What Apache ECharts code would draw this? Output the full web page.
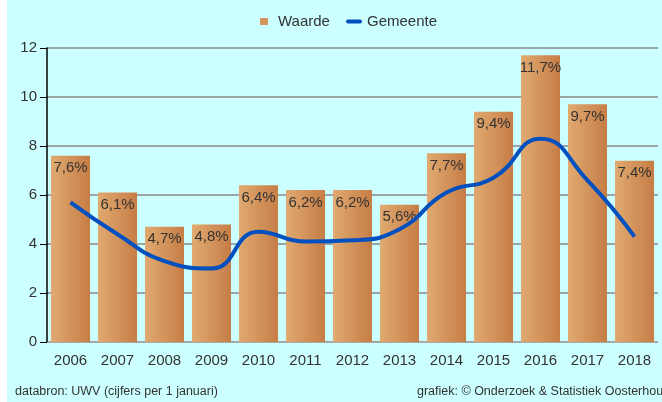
<!DOCTYPE html>
<html>
<head>
<meta charset="utf-8">
<script src="https://cdn.jsdelivr.net/npm/echarts@6/dist/echarts.min.js"></script>
<style>
  html, body { margin: 0; padding: 0; background: #fff; }
  #main { width: 662px; height: 402px; }
</style>
</head>
<body>
<div id="main"></div>
<script>
// jaren en waarden
var jaren = ["2006", "2007", "2008", "2009", "2010", "2011", "2012", "2013", "2014", "2015", "2016", "2017", "2018"];
var waarde = [7.6, 6.1, 4.7, 4.8, 6.4, 6.2, 6.2, 5.6, 7.7, 9.4, 11.7, 9.7, 7.4];
var gemeente = [5.7, 4.4, 3.3, 3.0, 4.5, 4.1, 4.15, 4.6, 6.1, 6.7, 8.3, 6.6, 4.3];
var yTicks = [0, 2, 4, 6, 8, 10, 12];

var myChart = echarts.init(document.getElementById("main"));

var barKleur = new echarts.graphic.LinearGradient(0, 0, 1, 0, [
  { offset: 0, color: "#e0aa70" },
  { offset: 1, color: "#c67d46" }
]);

myChart.setOption({
  backgroundColor: "#ccffff",
  textStyle: { fontFamily: "Liberation Sans, Arial, sans-serif" },
  graphic: [
    { type: "rect", left: 0, top: 0, shape: { width: 7, height: 402 }, style: { fill: "#fff" }, z: -1 },
    { type: "text", left: 15, top: 385, style: { text: "databron: UWV (cijfers per 1 januari)", fill: "#333", font: "12.5px Liberation Sans, Arial, sans-serif" } },
    { type: "text", left: 417, top: 385, style: { text: "grafiek: © Onderzoek & Statistiek Oosterhout", fill: "#333", font: "12.5px Liberation Sans, Arial, sans-serif" } }
  ],
  legend: [
    {
      top: 9,
      left: 255,
      itemGap: 10,
      textStyle: { fontSize: 15, color: "#333", padding: [0, 0, 0, 5] },
      data: [{ name: "Waarde", icon: "rect", itemStyle: { color: "#d69558" } }],
      itemWidth: 8,
      itemHeight: 7
    },
    {
      top: 9,
      left: 341,
      textStyle: { fontSize: 15, color: "#333" },
      data: [{ name: "Gemeente", icon: "path://M2,0 L14,0 A2,2 0 0 1 14,4 L2,4 A2,2 0 0 1 2,0 Z" }],
      itemWidth: 16,
      itemHeight: 4
    }
  ],
  grid: { left: 47, right: 4, top: 48, bottom: 60 },
  xAxis: {
    type: "category",
    data: jaren,
    axisLine: { lineStyle: { color: "#aaa", width: 1 } },
    axisTick: { alignWithLabel: true, length: 7, lineStyle: { color: "#000" } },
    axisLabel: { color: "#333", fontSize: 15, margin: 11 }
  },
  yAxis: {
    type: "value",
    min: yTicks[0],
    max: yTicks[yTicks.length - 1],
    interval: 2,
    axisLine: { show: true, lineStyle: { color: "#000", width: 1.5 } },
    axisTick: { show: true, length: 7, lineStyle: { color: "#000" } },
    axisLabel: { color: "#333", fontSize: 15, margin: 10 },
    splitLine: { lineStyle: { color: "#9aa5a5", width: 2 } }
  },
  series: [
    {
      name: "Waarde",
      type: "bar",
      data: waarde,
      barCategoryGap: "17%",
      itemStyle: { color: barKleur },
      label: {
        show: true,
        position: "insideTop",
        distance: 5,
        color: "#333",
        fontSize: 15,
        formatter: function (p) { return p.value.toFixed(1).replace(".", ",") + "%"; }
      }
    },
    {
      name: "Gemeente",
      type: "line",
      data: gemeente,
      smooth: 0.5,
      symbol: "none",
      lineStyle: { color: "#0050c0", width: 4 },
      itemStyle: { color: "#0050c0" }
    }
  ]
});
</script>
</body>
</html>
